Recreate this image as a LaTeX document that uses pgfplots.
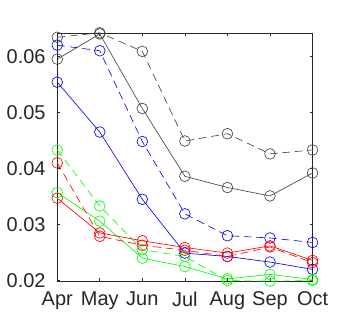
\documentclass[border=0pt]{standalone}
\usepackage{fontspec}
\setmainfont{Liberation Sans}
\usepackage{pgfplots}
\pgfplotsset{compat=1.18}
\definecolor{axgray}{rgb}{0.15,0.15,0.15}
\definecolor{kline}{rgb}{0.25,0.25,0.25}
\begin{document}
\fontsize{20.5}{24}\selectfont
\begin{tikzpicture}
\begin{axis}[
  at={(0,0)}, anchor=south west,
  scale only axis, width=262.2pt, height=255pt,
  xmin=0, xmax=6, ymin=0.0199, ymax=0.0642,
  xtick={0,1,2,3,4,5,6},
  xticklabels={Apr,May,Jun,Jul,Aug,Sep,Oct},
  ytick={0.02,0.03,0.04,0.05,0.06},
  yticklabel style={/pgf/number format/fixed,/pgf/number format/fixed zerofill,/pgf/number format/precision=2,/pgf/number format/assume math mode=true, font=\fontsize{20.5}{24}\selectfont, text=axgray, xshift=-5pt},
  xticklabel style={font=\fontsize{20.5}{24}\selectfont, text=axgray, yshift=-4pt},
  scaled y ticks=false,
  tick align=inside, major tick length=3pt,
  axis line style={axgray, line width=0.6pt},
  tick style={axgray, line width=0.6pt},
  every axis plot/.append style={line width=0.65pt, mark=o, mark size=5.5pt, mark options={solid}},
  clip=false,
]
\addplot[kline] coordinates {(0,0.0595) (1,0.0640) (2,0.0507) (3,0.0386) (4,0.0366) (5,0.0351) (6,0.0392)};
\addplot[kline, dash pattern=on 8pt off 5pt] coordinates {(0,0.0634) (1,0.0642) (2,0.0609) (3,0.0449) (4,0.0462) (5,0.0426) (6,0.0433)};
\addplot[blue] coordinates {(0,0.0554) (1,0.0465) (2,0.0345) (3,0.0249) (4,0.0243) (5,0.0233) (6,0.0220)};
\addplot[blue, dash pattern=on 8pt off 5pt] coordinates {(0,0.0620) (1,0.0610) (2,0.0448) (3,0.0319) (4,0.0280) (5,0.0276) (6,0.0268)};
\addplot[green, dash pattern=on 8pt off 5pt] coordinates {(0,0.0433) (1,0.0333) (2,0.0255) (3,0.0243) (4,0.0200) (5,0.0199) (6,0.0200)};
\addplot[green] coordinates {(0,0.0357) (1,0.0306) (2,0.0240) (3,0.0225) (4,0.0203) (5,0.0211) (6,0.0202)};
\addplot[red, dash pattern=on 8pt off 5pt] coordinates {(0,0.0410) (1,0.0279) (2,0.0263) (3,0.0254) (4,0.0243) (5,0.0260) (6,0.0232)};
\addplot[red] coordinates {(0,0.0347) (1,0.0285) (2,0.0271) (3,0.0259) (4,0.0249) (5,0.0262) (6,0.0236)};
\end{axis}
\useasboundingbox (-49.5pt,-33.7pt) rectangle (294.5pt,288.7pt);
\end{tikzpicture}
\end{document}
